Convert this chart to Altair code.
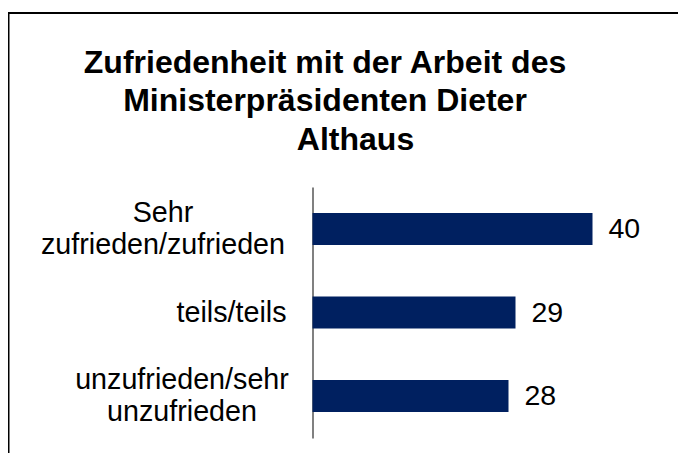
import altair as alt
import pandas as pd

# ---- data ----
categories = ["Sehr zufrieden/zufrieden", "teils/teils", "unzufrieden/sehr unzufrieden"]
values = [40, 29, 28]
title_lines = ["Zufriedenheit mit der Arbeit des", "Ministerpräsidenten Dieter", "Althaus"]

df = pd.DataFrame({"cat": categories, "val": values})

FONT = "Liberation Sans"
W, H = 350, 251
PAD = {"left": 304.5, "top": 179, "right": 15.5, "bottom": 15}

label_pad = {
    "condition": [
        {"test": f"datum.value == '{categories[0]}'", "value": 150},
        {"test": f"datum.value == '{categories[1]}'", "value": 81.5},
    ],
    "value": 131,
}
label_off = {
    "condition": {"test": f"datum.value == '{categories[1]}'", "value": 0},
    "value": -16,
}

y = alt.Y(
    "cat:N",
    sort=categories,
    title=None,
    scale=alt.Scale(paddingInner=0.617, paddingOuter=0.31),
    axis=alt.Axis(
        domainColor="#808080",
        domainWidth=2,
        ticks=False,
        grid=False,
        labelExpr="split(datum.label, ' ')",
        labelFont=FONT,
        labelFontSize=28.7,
        labelLineHeight=32,
        labelAlign="center",
        labelBaseline="middle",
        labelPadding=label_pad,
        labelOffset=label_off,
        labelColor="black",
        labelLimit=0,
        labelOverlap=False,
    ),
)
# top x axis is invisible except for its title, which carries the third title line
x = alt.X(
    "val:Q",
    scale=alt.Scale(domain=[0, 50]),
    axis=alt.Axis(
        orient="top",
        labels=False,
        ticks=False,
        domain=False,
        grid=False,
        title=title_lines[2],
        titleFont=FONT,
        titleFontSize=32,
        titleFontWeight="bold",
        titleColor="black",
        titleAlign="center",
        titleBaseline="alphabetic",
        titleAngle=0,
        titleX=42.5,
        titleY=-37.5,
    ),
)
x_plain = alt.X("val:Q", scale=alt.Scale(domain=[0, 50]))

bars = alt.Chart(df).mark_bar(color="#002060").encode(x=x, y=y)

text = alt.Chart(df).mark_text(
    align="left", baseline="middle", dx=16, font=FONT, fontSize=28.5, color="black"
).encode(x=x_plain, y=alt.Y("cat:N", sort=categories), text="val:Q")

frame = alt.Chart(pd.DataFrame({"k": [0]})).mark_rect(
    fill="transparent", stroke="black", strokeWidth=2
).encode(
    x=alt.value(-304),
    x2=alt.value(W + 40),
    y=alt.value(-174),
    y2=alt.value(H + 40),
)

chart = alt.layer(frame, bars, text).properties(
    width=W,
    height=H,
    autosize=alt.AutoSizeParams(type="none"),
    padding=PAD,
    background="white",
    title=alt.TitleParams(
        text=title_lines[:2],
        font=FONT,
        fontSize=32,
        fontWeight="bold",
        lineHeight=38.5,
        anchor="middle",
        frame="group",
        dx=-162.5,
        baseline="alphabetic",
        offset=-131,
        color="black",
    ),
).configure_view(strokeWidth=0)

chart.save("out.html", embed_options={"renderer": "svg", "actions": False})
